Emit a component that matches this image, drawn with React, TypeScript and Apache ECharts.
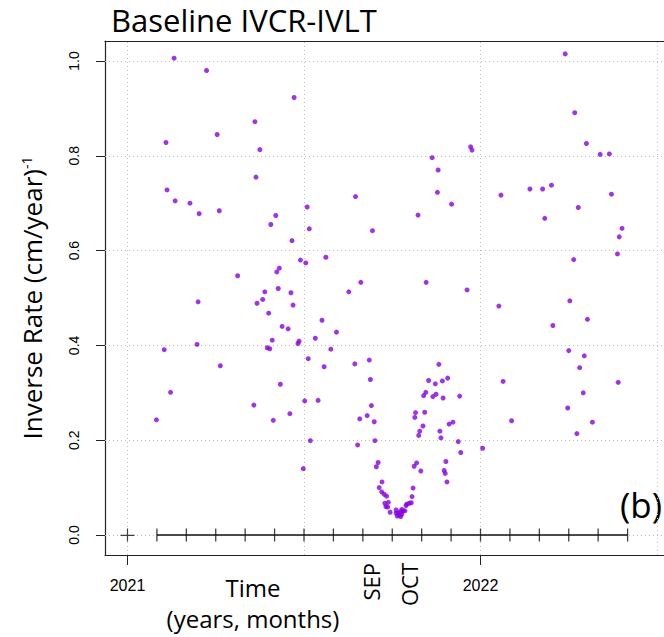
import React, { useEffect, useRef } from "react";
import * as echarts from "echarts";

// Observation times (decimal years)
const times: number[] = [
  2021.132, 2021.224, 2021.472, 2021.361, 2021.254, 2021.109, 2021.375, 2021.364, 2021.112, 2021.135,
  2021.177, 2021.203, 2021.26, 2021.42, 2021.406, 2021.509, 2021.515, 2021.466, 2021.646, 2021.694,
  2021.562, 2021.49, 2021.505, 2021.43, 2021.423, 2021.312, 2021.661, 2021.627, 2021.2, 2021.389,
  2021.427, 2021.463, 2021.383, 2021.367, 2021.469, 2021.4, 2021.551, 2021.592, 2021.438, 2021.455,
  2021.532, 2021.41, 2021.486, 2021.483, 2021.197, 2021.104, 2021.396, 2021.403, 2021.576, 2021.512,
  2021.557, 2021.263, 2021.644, 2021.685, 2021.688, 2021.433, 2021.122, 2021.502, 2021.54, 2021.358,
  2021.691, 2021.46, 2021.679, 2021.658, 2021.699, 2021.082, 2021.413, 2021.518, 2021.652, 2021.701,
  2021.498, 2021.71, 2021.705, 2021.721, 2021.713, 2021.72, 2021.727, 2021.734, 2021.729, 2021.739,
  2021.732, 2021.737, 2021.744, 2021.761, 2021.761, 2021.764, 2021.767, 2021.77, 2021.774, 2021.774,
  2021.777, 2021.777, 2021.781, 2021.786, 2021.789, 2021.791, 2021.798, 2021.804, 2021.806, 2021.809,
  2021.819, 2021.812, 2021.831, 2021.902, 2021.897, 2021.9, 2021.905, 2021.937, 2021.944, 2021.825,
  2021.828, 2021.837, 2021.814, 2021.816, 2021.842, 2021.839, 2021.845, 2021.865, 2021.874, 2021.894,
  2021.853, 2021.872, 2021.892, 2021.907, 2021.882, 2021.941, 2021.885, 2021.888, 2021.911, 2021.922,
  2021.846, 2021.962, 2022.052, 2022.264, 2022.388, 2022.253, 2022.303, 2022.205, 2022.25, 2022.294,
  2022.281, 2022.064, 2022.39, 2022.291, 2022.247, 2022.088, 2022.317, 2022.273, 2022.006, 2022.24,
  2022.267, 2022.3, 2022.339, 2022.365, 2021.972, 2021.976, 2021.863, 2021.88, 2021.878, 2021.918,
  2021.823, 2022.058, 2022.14, 2022.176, 2022.201, 2022.371, 2022.277, 2022.182, 2022.401, 2022.393,
];

// Inverse rate values, (cm/year)^-1
const rates: number[] = [
  1.006, 0.98, 0.923, 0.872, 0.845, 0.828, 0.813, 0.755, 0.728, 0.705,
  0.7, 0.678, 0.684, 0.674, 0.655, 0.692, 0.646, 0.621, 0.714, 0.642,
  0.586, 0.58, 0.574, 0.563, 0.555, 0.547, 0.533, 0.513, 0.492, 0.513,
  0.52, 0.511, 0.497, 0.489, 0.485, 0.468, 0.453, 0.428, 0.44, 0.435,
  0.415, 0.411, 0.409, 0.404, 0.402, 0.391, 0.395, 0.393, 0.392, 0.372,
  0.355, 0.357, 0.361, 0.369, 0.328, 0.318, 0.301, 0.283, 0.284, 0.274,
  0.273, 0.256, 0.252, 0.245, 0.239, 0.243, 0.242, 0.199, 0.19, 0.199,
  0.14, 0.153, 0.144, 0.112, 0.1, 0.091, 0.086, 0.082, 0.067, 0.069,
  0.06, 0.059, 0.048, 0.053, 0.046, 0.04, 0.047, 0.042, 0.039, 0.049,
  0.044, 0.054, 0.051, 0.051, 0.062, 0.065, 0.067, 0.068, 0.081, 0.099,
  0.152, 0.145, 0.135, 0.155, 0.136, 0.13, 0.112, 0.197, 0.174, 0.21,
  0.219, 0.23, 0.248, 0.258, 0.259, 0.294, 0.301, 0.292, 0.297, 0.289,
  0.326, 0.319, 0.325, 0.331, 0.36, 0.293, 0.219, 0.205, 0.234, 0.238,
  0.533, 0.517, 0.483, 0.581, 0.593, 0.494, 0.455, 0.442, 0.389, 0.378,
  0.353, 0.324, 0.322, 0.3, 0.268, 0.241, 0.238, 0.214, 0.183, 1.015,
  0.891, 0.826, 0.803, 0.804, 0.819, 0.812, 0.796, 0.77, 0.723, 0.698,
  0.675, 0.717, 0.73, 0.73, 0.738, 0.719, 0.691, 0.668, 0.647, 0.629,
];

// Monthly ticks drawn along the zero line (Feb 2021 .. Jun 2022)
const monthTicks: number[] = [
  2021.0833, 2021.1667, 2021.25, 2021.3333, 2021.4167, 2021.5, 2021.5833, 2021.6667, 2021.75,
  2021.8333, 2021.9167, 2022.0, 2022.0833, 2022.1667, 2022.25, 2022.3333, 2022.4167,
];
const startTick: number[] = [2021.0];
const yearTicks: number[] = [2021, 2022];
const rateTicks: number[] = [0, 0.2, 0.4, 0.6, 0.8, 1.0];
const gridYears: number[] = [2021, 2021.5, 2022, 2022.5];
const monthNames: string[] = ["SEP", "OCT"];
const monthNamePos: number[] = [2021.69, 2021.797];

const X_MIN = 2020.9363;
const X_MAX = 2022.5198;
const Y_MIN = -0.0422;
const Y_MAX = 1.0422;

export default function App() {
  const ref = useRef<HTMLDivElement>(null);
  useEffect(() => {
    if (!ref.current) return;
    const chart = echarts.init(ref.current, null, { renderer: "svg" });
    const points = times.map((t, i) => [t, rates[i]]);
    const gridLineData: any[] = [
      ...gridYears.map((v) => ({ xAxis: v })),
      ...rateTicks.map((v) => ({ yAxis: v })),
    ];
    const axisColor = "#222";
    const nearestIdx = (arr: number[], v: number) => {
      let best = 0;
      arr.forEach((a, i) => {
        if (Math.abs(a - v) < Math.abs(arr[best] - v)) best = i;
      });
      return best;
    };
    const option: any = {
      animation: false,
      title: {
        text: "Baseline IVCR-IVLT",
        left: 106,
        top: -1,
        textStyle: { fontFamily: "Open Sans", fontSize: 31, fontWeight: "normal", color: "#000" },
      },
      grid: { left: 105, top: 41, right: 0, bottom: 82, containLabel: false, outerBoundsMode: "none" },
      xAxis: [
        {
          type: "value",
          min: X_MIN,
          max: X_MAX,
          position: "bottom",
          axisLine: { show: true, onZero: false, lineStyle: { color: axisColor, width: 1.2 } },
          axisTick: { show: true, customValues: yearTicks, length: 10, lineStyle: { color: axisColor, width: 1 } },
          axisLabel: {
            customValues: yearTicks,
            formatter: (v: number) => String(Math.round(v)),
            fontSize: 16,
            fontFamily: "Liberation Sans",
            color: "#000",
            margin: 22,
          },
          splitLine: { show: false },
        },
        {
          type: "value",
          min: X_MIN,
          max: X_MAX,
          position: "bottom",
          axisLine: { show: false, onZero: false },
          axisTick: { show: false },
          axisLabel: {
            customValues: monthNamePos,
            formatter: (v: number) => monthNames[nearestIdx(monthNamePos, v)],
            rotate: 90,
            fontSize: 22,
            fontFamily: "Open Sans",
            color: "#000",
            margin: 8,
          },
          splitLine: { show: false },
        },
        {
          type: "value",
          min: X_MIN,
          max: X_MAX,
          position: "top",
          axisLine: { show: true, onZero: false, lineStyle: { color: axisColor, width: 1.2 } },
          axisTick: { show: false },
          axisLabel: { show: false },
          splitLine: { show: false },
        },
      ],
      yAxis: {
        type: "value",
        min: Y_MIN,
        max: Y_MAX,
        position: "left",
        axisLine: { show: true, onZero: false, lineStyle: { color: axisColor, width: 1.2 } },
        axisTick: { show: true, customValues: rateTicks, length: 9, lineStyle: { color: axisColor, width: 1 } },
        axisLabel: {
          customValues: rateTicks,
          formatter: (v: number) => v.toFixed(1),
          rotate: 90,
          align: "center",
          verticalAlign: "middle",
          fontSize: 14,
          fontFamily: "Liberation Sans",
          color: "#000",
          margin: 31,
        },
        splitLine: { show: false },
        name: "{a|Inverse Rate (cm/year)}{s|-1}",
        nameLocation: "middle",
        nameRotate: 90,
        nameGap: 60,
        nameMoveOverlap: false,
        nameTextStyle: {
          rich: {
            a: { fontSize: 26, fontFamily: "Open Sans", color: "#000" },
            s: { fontSize: 14, fontFamily: "Open Sans", color: "#000", verticalAlign: "top" },
          },
        },
      },
      graphic: [
        {
          type: "text",
          x: 253,
          y: 572,
          style: {
            text: "Time\n(years, months)",
            fontFamily: "Open Sans",
            fontSize: 24,
            lineHeight: 31,
            textAlign: "center",
            fill: "#000",
          },
        },
        {
          type: "text",
          x: 641,
          y: 504,
          style: {
            text: "(b)",
            fontFamily: "Open Sans",
            fontSize: 35,
            textAlign: "center",
            textVerticalAlign: "middle",
            fill: "#000",
          },
        },
      ],
      series: [
        {
          type: "line",
          data: [
            [monthTicks[0], 0],
            [monthTicks[monthTicks.length - 1], 0],
          ],
          symbol: "none",
          lineStyle: { color: "#111", width: 1.3 },
          z: 2,
          silent: true,
          markLine: {
            silent: true,
            symbol: ["none", "none"],
            label: { show: false },
            lineStyle: { type: [1, 3], color: "#bdbdbd", width: 1 },
            data: gridLineData,
            z: 1,
          },
        },
        {
          type: "scatter",
          data: monthTicks.map((t) => [t, 0]),
          symbol: "rect",
          symbolSize: [1.3, 13],
          itemStyle: { color: "#111" },
          z: 3,
          silent: true,
        },
        {
          type: "scatter",
          data: startTick.map((t) => [t, 0]),
          symbol: "path://M0,6.2H14V7.4H0Z M6.4,0H7.6V13H6.4Z",
          symbolSize: [14, 13],
          itemStyle: { color: "#111" },
          z: 3,
          silent: true,
        },
        {
          type: "scatter",
          data: points,
          symbolSize: 5,
          itemStyle: { color: "#8800DD" },
          z: 4,
        },
      ],
    };
    chart.setOption(option);
    return () => chart.dispose();
  }, []);
  return <div ref={ref} style={{ position: "absolute", left: 0, top: 0, width: 664, height: 637 }} />;
}
